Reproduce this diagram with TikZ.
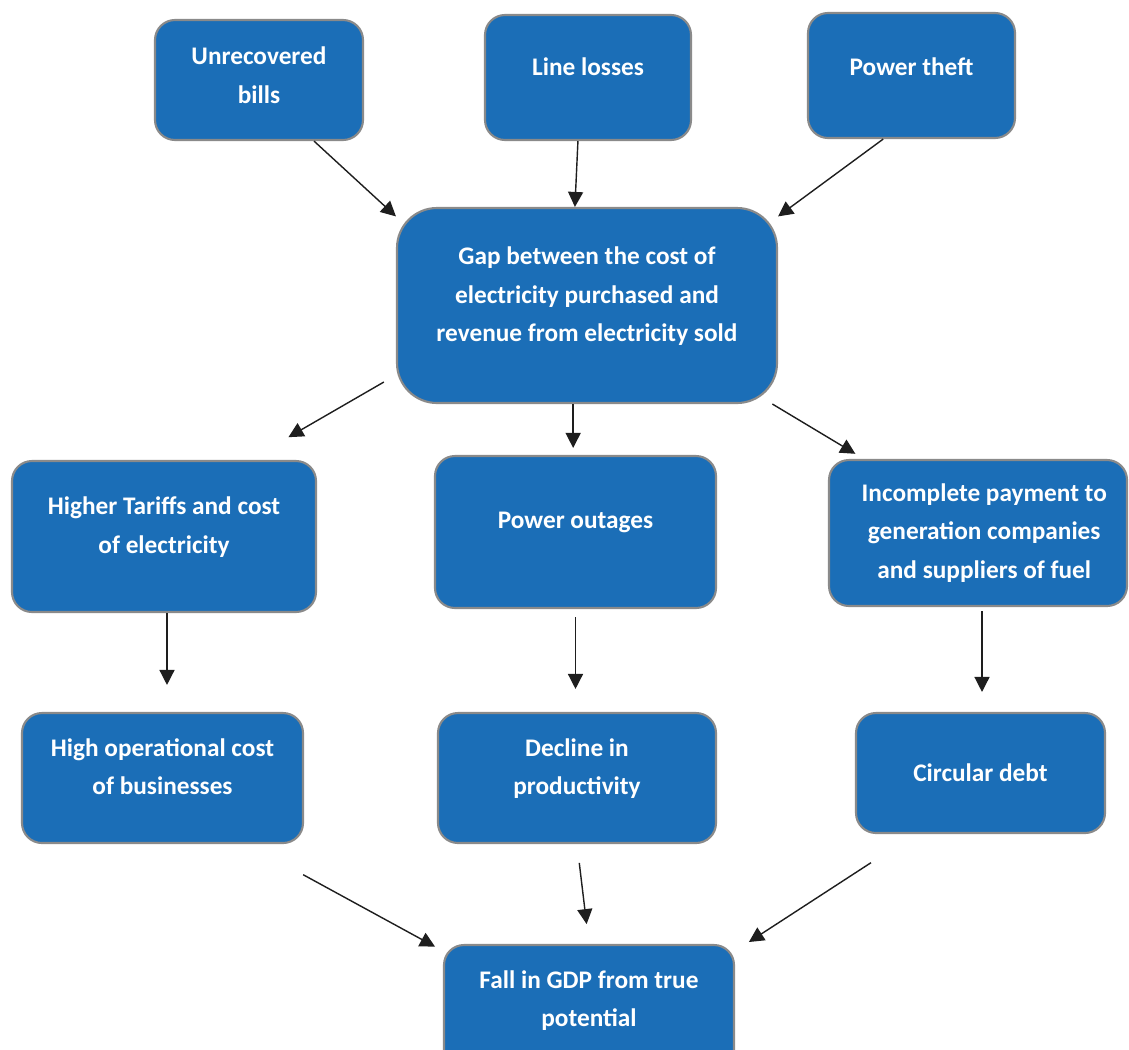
\documentclass[tikz,border=0pt]{standalone}
\usepackage{fontspec}
\setmainfont{Carlito}
\usepackage{tikz}
\usetikzlibrary{arrows.meta, calc}
\definecolor{boxblue}{HTML}{1B6EB7}
\definecolor{boxline}{HTML}{8A8A8A}
\definecolor{arrowink}{HTML}{1E1E1E}

\begin{document}
\begin{tikzpicture}[
    box/.style 2 args={draw=boxline, line width=1.2pt, rounded corners=0.4cm, fill=boxblue, text=white, minimum width=#1, minimum height=#2, align=center, font=\bfseries\fontsize{14.4}{21.8}\selectfont},
    lift/.style={text depth=#1},
    lift/.default=0.45cm,
    arrow/.style={-{Triangle[length=3mm, width=3mm]}, line width=0.8pt, color=arrowink}
]
\useasboundingbox (0,0) rectangle (22.58,-20.98);

\node[box={4.16cm}{2.4cm}, lift=0.2cm] (unrec) at (5.18,-1.60) {Unrecovered\\bills};
\node[box={4.12cm}{2.5cm}, lift] (lines) at (11.76,-1.55) {Line losses};
\node[box={4.14cm}{2.5cm}, lift=0.35cm] (theft) at (18.23,-1.51) {Power theft};
\node[box={7.6cm}{3.9cm}, lift, rounded corners=0.8cm] (gap) at (11.74,-6.11) {Gap between the cost of\\electricity purchased and\\revenue from electricity sold};
\node[box={6.08cm}{3.02cm}, lift] (tariff) at (3.28,-10.73) {Higher Tariffs and cost\\of electricity};
\node[box={5.62cm}{3.04cm}, lift] (outage) at (11.51,-10.64) {Power outages};
\node[box={5.96cm}{2.92cm}] (incomp) at (19.56,-10.66) {\hspace{0.25cm}Incomplete payment to\\\hspace{0.25cm}generation companies\\\hspace{0.25cm}and suppliers of fuel};
\node[box={5.62cm}{2.6cm}, lift] (highop) at (3.25,-15.56) {High operational cost\\of businesses};
\node[box={5.56cm}{2.6cm}, lift] (decline) at (11.54,-15.56) {Decline in\\productivity};
\node[box={4.98cm}{2.4cm}] (circ) at (19.61,-15.46) {Circular debt};
\node[box={5.8cm}{2.6cm}, lift] (gdp) at (11.78,-20.20) {Fall in GDP from true\\potential};

\draw[arrow] (unrec.-48) -- (gap.155);
\draw[arrow] (lines.-99) -- (gap.97);
\draw[arrow] (theft.-114) -- (gap.25);
\draw[arrow, shorten <=0.28cm, shorten >=0.91cm] (gap.200) -- (tariff.42);
\draw[arrow, shorten >=0.14cm] (gap.-98) -- (gap.-98 |- outage.north);
\draw[arrow, shorten >=0.2cm] (gap.-28) -- (incomp.147);
\draw[arrow, shorten >=0.54cm] ([xshift=0.06cm]tariff.south) -- ([xshift=0.06cm]tariff.south |- highop.north);
\draw[arrow, shorten <=0.16cm, shorten >=0.46cm] (outage.south) -- (outage.south |- decline.north);
\draw[arrow, shorten <=0.08cm, shorten >=0.4cm] ([xshift=0.08cm]incomp.south) -- ([xshift=0.08cm]incomp.south |- circ.north);
\draw[arrow, shorten <=1.28cm, shorten >=0.18cm] (highop.-38) -- (gdp.158.5);
\draw[arrow, shorten <=0.38cm, shorten >=0.4cm] (decline.south) -- (gdp.north);
\draw[arrow, shorten <=1.05cm, shorten >=0.33cm] (circ.-137.5) -- (gdp.22);
\end{tikzpicture}
\end{document}
